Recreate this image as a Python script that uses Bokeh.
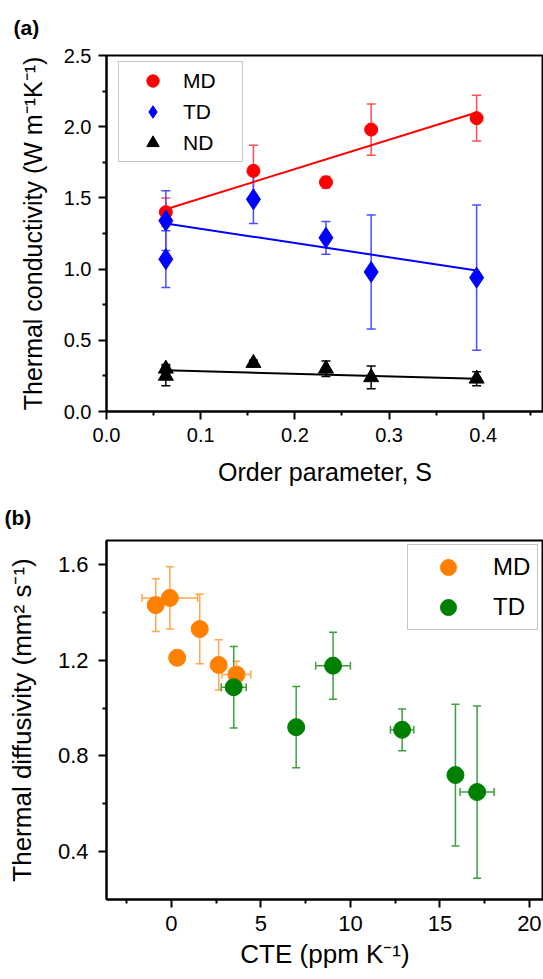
import math
from bokeh.plotting import figure
from bokeh.models import (ColumnDataSource, Whisker, TeeHead, Range1d, FixedTicker,
                          Legend, LegendItem)
from bokeh.layouts import column
from bokeh.embed import file_html
from bokeh.resources import INLINE

# ---------------- Panel (a) data ----------------
s_md = [0.063, 0.156, 0.233, 0.281, 0.393]
k_md = [1.40, 1.69, 1.61, 1.98, 2.06]
k_md_err = [0.10, 0.18, 0.04, 0.18, 0.16]

s_td = [0.063, 0.063, 0.156, 0.233, 0.281, 0.393]
k_td = [1.34, 1.07, 1.49, 1.22, 0.98, 0.94]
k_td_err = [0.21, 0.20, 0.17, 0.115, 0.40, 0.51]

s_nd = [0.063, 0.063, 0.156, 0.233, 0.281, 0.393]
k_nd = [0.30, 0.25, 0.34, 0.30, 0.24, 0.23]
k_nd_err = [0.03, 0.07, 0.02, 0.055, 0.08, 0.05]

fit_s = [0.063, 0.393]
fit_md = [1.42, 2.10]
fit_td = [1.32, 0.99]
fit_nd = [0.29, 0.23]

a_xticks = [0.0, 0.1, 0.2, 0.3, 0.4]
a_xlabels = ["0.0", "0.1", "0.2", "0.3", "0.4"]
a_xminor = [0.05, 0.15, 0.25, 0.35, 0.45]
a_yticks = [0.0, 0.5, 1.0, 1.5, 2.0, 2.5]
a_ylabels = ["0.0", "0.5", "1.0", "1.5", "2.0", "2.5"]
a_yminor = [0.25, 0.75, 1.25, 1.75, 2.25]

# ---------------- Panel (b) data ----------------
cte_md = [-0.88, -0.09, 1.58, 0.32, 2.64, 3.63]
dif_md = [1.43, 1.46, 1.33, 1.21, 1.18, 1.14]
dif_md_yerr = [0.11, 0.13, 0.145, 0.03, 0.105, 0.055]
dif_md_xerr = [0.0, 1.55, 0.0, 0.0, 0.0, 0.80]

cte_td = [3.48, 6.97, 9.03, 12.89, 15.87, 17.08]
dif_td = [1.087, 0.92, 1.177, 0.909, 0.72, 0.649]
dif_td_yerr = [0.17, 0.17, 0.14, 0.087, 0.296, 0.36]
dif_td_xerr = [0.70, 0.0, 0.97, 0.65, 0.0, 0.95]

b_xticks = [0, 5, 10, 15, 20]
b_xlabels = ["0", "5", "10", "15", "20"]
b_xminor = [-2.5, 2.5, 7.5, 12.5, 17.5]
b_yticks = [0.4, 0.8, 1.2, 1.6]
b_ylabels = ["0.4", "0.8", "1.2", "1.6"]
b_yminor = [0.6, 1.0, 1.4]

FONT = "Liberation Sans"


def style_axes(p, tick_font, standoff_x, standoff_y, label_font, lso_x, lso_y):
    for ax, so, lso in ((p.xaxis[0], standoff_x, lso_x), (p.yaxis[0], standoff_y, lso_y)):
        ax.axis_line_width = 2
        ax.axis_line_color = "black"
        ax.major_tick_line_width = 2
        ax.minor_tick_line_width = 2
        ax.major_tick_line_color = "black"
        ax.minor_tick_line_color = "black"
        ax.major_tick_out = 8
        ax.major_tick_in = 0
        ax.minor_tick_out = 4
        ax.minor_tick_in = 0
        ax.major_label_text_font = FONT
        ax.major_label_text_font_size = tick_font
        ax.major_label_text_color = "black"
        ax.major_label_standoff = so
        ax.axis_label_text_font = FONT
        ax.axis_label_text_font_size = label_font
        ax.axis_label_text_font_style = "normal"
        ax.axis_label_text_color = "black"
        ax.axis_label_standoff = lso
    p.xgrid.visible = False
    p.ygrid.visible = False
    p.outline_line_color = "black"
    p.outline_line_width = 2
    p.outline_line_alpha = 1


def style_title(p, text, offset, standoff):
    p.title.text = text
    p.title.align = "left"
    p.title.vertical_align = "top"
    p.title.offset = offset
    p.title.standoff = standoff
    p.title.text_font = FONT
    p.title.text_font_size = "21px"
    p.title.text_font_style = "bold"
    p.title.text_color = "black"


def whisker(p, base, val, err, dim, color, head):
    up = [v + e for v, e in zip(val, err)]
    lo = [v - e for v, e in zip(val, err)]
    src = ColumnDataSource(dict(base=base, upper=up, lower=lo))
    w = Whisker(source=src, base="base", upper="upper", lower="lower", dimension=dim,
                line_color=color, line_width=1.5,
                upper_head=TeeHead(size=head, line_color=color, line_width=1.5),
                lower_head=TeeHead(size=head, line_color=color, line_width=1.5))
    w.level = "underlay"
    p.add_layout(w)


# ================= Figure (a) =================
pa = figure(width=543, height=493, output_backend="svg", toolbar_location=None,
            x_range=Range1d(0.0, 0.464), y_range=Range1d(0.0, 2.5),
            min_border_left=106, min_border_right=0, min_border_top=55, min_border_bottom=82)
pa.xaxis.ticker = FixedTicker(ticks=a_xticks, minor_ticks=a_xminor)
pa.yaxis.ticker = FixedTicker(ticks=a_yticks, minor_ticks=a_yminor)
pa.xaxis.major_label_overrides = dict(zip(a_xticks, a_xlabels))
pa.yaxis.major_label_overrides = dict(zip(a_yticks, a_ylabels))
pa.xaxis.axis_label = "Order parameter, S"
pa.yaxis.axis_label = "Thermal conductivity (W m\u207b\u00b9K\u207b\u00b9)"
style_axes(pa, "20px", 8, 7, "25px", 13, 14)
style_title(pa, "(a)", -93, 30)

whisker(pa, s_md, k_md, k_md_err, "height", "#ff4d4d", 9)
whisker(pa, s_td, k_td, k_td_err, "height", "#4d4dff", 9)
whisker(pa, s_nd, k_nd, k_nd_err, "height", "#000000", 9)

pa.line(fit_s, fit_md, line_color="#ff0000", line_width=2)
pa.line(fit_s, fit_td, line_color="#0000ff", line_width=2)
pa.line(fit_s, fit_nd, line_color="#000000", line_width=2)

r_md = pa.scatter(s_md, k_md, marker="circle", size=13, fill_color="#ff0000", line_color="#ff0000")
r_td = pa.scatter(s_td, k_td, marker="diamond", size=21, fill_color="#0000ff", line_color="#0000ff")
r_nd = pa.scatter(s_nd, k_nd, marker="triangle", size=15, fill_color="#000000", line_color="#000000")

leg_a = Legend(items=[LegendItem(label="MD", renderers=[r_md]),
                      LegendItem(label="TD", renderers=[r_td]),
                      LegendItem(label="ND", renderers=[r_nd])],
               location=(12, 249), glyph_width=61, glyph_height=31, spacing=0, padding=3,
               label_standoff=0, label_width=56, label_height=20, margin=0,
               label_text_font=FONT, label_text_font_size="21px", label_text_color="black",
               border_line_color="#8c8c8c", border_line_width=1.5, background_fill_alpha=1)
pa.add_layout(leg_a)

# ================= Figure (b) =================
# (frame left edge is aligned with panel (a) by the column layout)
pb = figure(width=543, height=486, output_backend="svg", toolbar_location=None,
            x_range=Range1d(-3.63, 20.79), y_range=Range1d(0.2, 1.7),
            min_border_left=100, min_border_right=0, min_border_top=47, min_border_bottom=80)
pb.xaxis.ticker = FixedTicker(ticks=b_xticks, minor_ticks=b_xminor)
pb.yaxis.ticker = FixedTicker(ticks=b_yticks, minor_ticks=b_yminor)
pb.xaxis.major_label_overrides = dict(zip(b_xticks, b_xlabels))
pb.yaxis.major_label_overrides = dict(zip(b_yticks, b_ylabels))
pb.xaxis.axis_label = "CTE (ppm K\u207b\u00b9)"
pb.yaxis.axis_label = "Thermal diffusivity (mm\u00b2 s\u207b\u00b9)"
style_axes(pb, "22px", 8, 10, "26px", 5, 18)
style_title(pb, "(b)", -102, 20)


def xerr_subset(xs, ys, xe):
    keep = [i for i, e in enumerate(xe) if e > 0]
    return [ys[i] for i in keep], [xs[i] for i in keep], [xe[i] for i in keep]


whisker(pb, cte_md, dif_md, dif_md_yerr, "height", "#ffa64d", 8)
by, bx, be = xerr_subset(cte_md, dif_md, dif_md_xerr)
whisker(pb, by, bx, be, "width", "#ffa64d", 8)

r_bmd = pb.scatter(cte_md, dif_md, marker="circle", size=17, fill_color="#ff8000", line_color="#ff8000")

whisker(pb, cte_td, dif_td, dif_td_yerr, "height", "#3f9f3f", 8)
by, bx, be = xerr_subset(cte_td, dif_td, dif_td_xerr)
whisker(pb, by, bx, be, "width", "#3f9f3f", 8)

r_btd = pb.scatter(cte_td, dif_td, marker="circle", size=17, fill_color="#008000", line_color="#008000")

leg_b = Legend(items=[LegendItem(label="MD", renderers=[r_bmd]),
                      LegendItem(label="TD", renderers=[r_btd])],
               location=(301, 269), glyph_width=76, glyph_height=40, spacing=0, padding=2,
               label_standoff=7, label_width=42, label_height=24, margin=0,
               label_text_font=FONT, label_text_font_size="24px", label_text_color="black",
               border_line_color="#8c8c8c", border_line_width=1.5, background_fill_alpha=1)
pb.add_layout(leg_b)

layout = column(pa, pb, spacing=0)
open("out.html", "w").write(file_html(layout, INLINE))
